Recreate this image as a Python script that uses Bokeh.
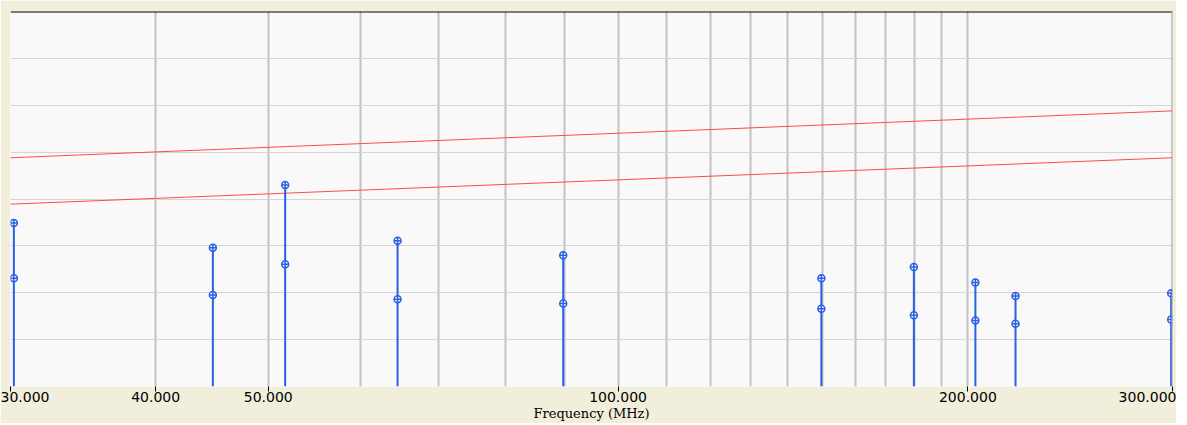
from bokeh.plotting import figure
from bokeh.models import Range1d, FixedTicker, Span
from bokeh.embed import file_html
from bokeh.resources import INLINE

# Data (frequencies in MHz, levels in dB)
freqs = [30.2, 44.8, 51.7, 64.6, 89.7, 149.6, 179.7, 203.0, 219.8, 299.2]
peak = [34.9, 29.6, 43.0, 31.1, 28.0, 23.1, 25.5, 22.2, 19.3, 19.9]
avg = [23.1, 19.5, 26.1, 18.6, 17.7, 16.6, 15.2, 14.1, 13.4, 14.3]

limit_f = [30, 300]
limit_upper = [48.8, 58.8]
limit_lower = [38.9, 48.8]

tick_vals = [30, 40, 50, 100, 200, 300]
tick_labels = ["30.000", "40.000", "50.000", "100.000", "200.000", "300.000"]
xgrid_vals = [30, 40, 50, 60, 70, 80, 90, 100, 110, 120, 130, 140, 150,
              160, 170, 180, 190, 200, 300]
ygrid_vals = [0, 10, 20, 30, 40, 50, 60, 70, 80]

p = figure(width=1176, height=423, x_axis_type="log",
           x_range=Range1d(30, 300), y_range=Range1d(0, 80),
           output_backend="svg", toolbar_location=None,
           min_border_left=10, min_border_right=4, min_border_top=11,
           min_border_bottom=30)

p.background_fill_color = "#f9f9f9"
p.border_fill_color = "#f2eedc"
p.outline_line_color = None

p.xgrid.ticker = FixedTicker(ticks=xgrid_vals)
p.xgrid.grid_line_color = "#c2c2c2"
p.xgrid.grid_line_width = 2
p.ygrid.ticker = FixedTicker(ticks=ygrid_vals)
p.ygrid.grid_line_color = "#d4d4d4"
p.ygrid.grid_line_width = 1

p.yaxis.visible = False

xa = p.xaxis[0]
xa.ticker = FixedTicker(ticks=tick_vals, minor_ticks=[])
xa.major_label_overrides = {v: l for v, l in zip(tick_vals, tick_labels)}
xa.axis_line_color = None
xa.major_tick_in = 0
xa.major_tick_out = 5
xa.major_tick_line_color = "#000000"
xa.minor_tick_line_color = None
xa.major_label_standoff = 0
xa.major_label_text_font = "DejaVu Sans"
xa.major_label_text_font_size = "14px"
xa.major_label_text_color = "#000000"
xa.axis_label = "Frequency (MHz)"
xa.axis_label_text_font = "DejaVu Serif"
xa.axis_label_text_font_size = "13px"
xa.axis_label_text_font_style = "normal"
xa.axis_label_text_color = "#000000"
xa.axis_label_standoff = 1

# frame borders
p.add_layout(Span(location=80, dimension="width", line_color="#000000", line_width=2))
p.add_layout(Span(location=300, dimension="height", line_color="#999999", line_width=2))

# limit lines
p.line(limit_f, limit_upper, line_color="#ff4a4a", line_width=1)
p.line(limit_f, limit_lower, line_color="#ff4a4a", line_width=1)

# stems and markers
blue = "#2a5fe6"
p.segment(x0=freqs, y0=[0] * len(freqs), x1=freqs, y1=peak,
          line_color=blue, line_width=2)
p.scatter(freqs, peak, marker="circle_cross", size=7, line_color=blue,
          fill_color="#f9f9f9", line_width=1.5)
p.scatter(freqs, avg, marker="circle_cross", size=7, line_color=blue,
          fill_color="#f9f9f9", line_width=1.5)

open("out.html", "w").write(file_html(p, INLINE))
